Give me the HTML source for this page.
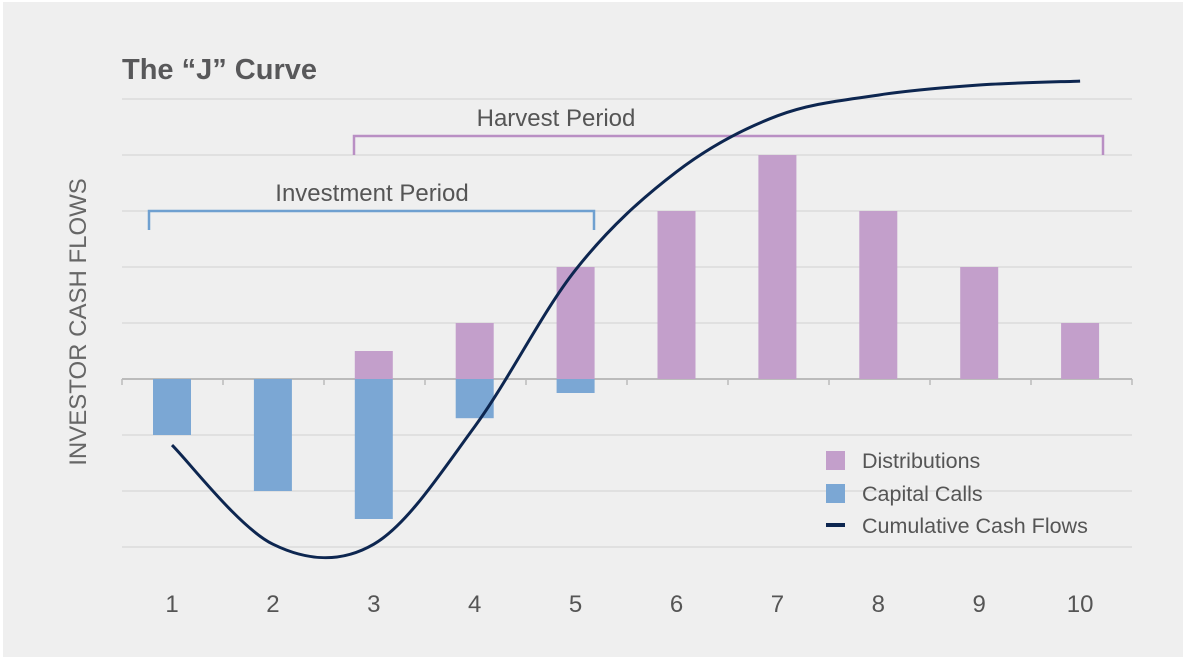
<!DOCTYPE html>
<html><head><meta charset="utf-8"><style>
html,body{margin:0;padding:0;background:#fff;width:1200px;height:672px;overflow:hidden}
svg{display:block;font-family:"Liberation Sans",sans-serif}
</style></head><body>
<svg id="c" width="1200" height="672">
<rect x="3" y="2" width="1180" height="655" fill="#efefef"/>
<text x="122" y="79" font-size="29" font-weight="bold" fill="#58585a">The “J” Curve</text>
<text transform="translate(86,322) rotate(-90)" text-anchor="middle" font-size="24" fill="#666">INVESTOR CASH FLOWS</text>
<g id="grid"></g><g id="bars"></g><g id="xl"></g>
<g>
<path d="M354,155 V136 H1103 V155" fill="none" stroke="#b98fc4" stroke-width="2.5"/>
<text x="556" y="126" text-anchor="middle" font-size="24" fill="#555">Harvest Period</text></g>
<g>
<path d="M149,230 V211 H594 V230" fill="none" stroke="#6fa0d0" stroke-width="2.5"/>
<text x="372" y="201" text-anchor="middle" font-size="24" fill="#555">Investment Period</text></g>
<path id="curve" fill="none" stroke="#0d2650" stroke-width="3"/>
<g font-size="21.5" fill="#555">
<rect x="826" y="451" width="19" height="19" fill="#c39fcb"/>
<text x="862" y="468">Distributions</text>
<rect x="826" y="484" width="19" height="19" fill="#7ba7d4"/>
<text x="862" y="501">Capital Calls</text>
<rect x="826" y="523" width="19" height="4" fill="#0d2650"/>
<text x="862" y="533">Cumulative Cash Flows</text>
</g>
</svg>
<script>
const categories=["1","2","3","4","5","6","7","8","9","10"];
const distributions=[0,0,0.5,1,2,3,4,3,2,1];
const capitalCalls=[-1,-2,-2.5,-0.7,-0.25,0,0,0,0,0];
const cumulative=[-1.18,-2.95,-2.95,-0.85,1.95,3.7,4.7,5.07,5.25,5.32];
const gridValues=[5,4,3,2,1,0,-1,-2,-3];
const NS="http://www.w3.org/2000/svg";
const xC=i=>172+i*100.9, yV=v=>379-v*56;
function mk(t,a,p){const e=document.createElementNS(NS,t);for(const k in a)e.setAttribute(k,a[k]);p.appendChild(e);return e;}
const g=document.getElementById('grid');
gridValues.forEach(v=>{const l=mk('line',{x1:122,x2:1132,y1:yV(v),y2:yV(v),stroke:v===0?'#bbb':'#d6d6d6','stroke-width':v===0?2:1.3},g);

});
for(let i=0;i<=10;i++){const t=mk('line',{x1:122+i*101,x2:122+i*101,y1:379,y2:385,stroke:'#bbb','stroke-width':1.5},g);

}
const b=document.getElementById('bars'),xl=document.getElementById('xl');
categories.forEach((c,i)=>{
 if(distributions[i]>0){const r=mk('rect',{x:xC(i)-19,y:yV(distributions[i]),width:38,height:yV(0)-yV(distributions[i]),fill:'#c39fcb'},b);
 
 }
 if(capitalCalls[i]<0){const r=mk('rect',{x:xC(i)-19,y:yV(0),width:38,height:yV(capitalCalls[i])-yV(0),fill:'#7ba7d4'},b);
 
 }
 const t=mk('text',{x:xC(i),y:612,'text-anchor':'middle','font-size':24,fill:'#555'},xl);t.textContent=c;
 
 
});
const pts=cumulative.map((v,i)=>[xC(i),yV(v)]);
let d='M'+pts[0][0]+','+pts[0][1];
for(let i=0;i<pts.length-1;i++){const p0=pts[Math.max(0,i-1)],p1=pts[i],p2=pts[i+1],p3=pts[Math.min(pts.length-1,i+2)];
d+=` C${p1[0]+(p2[0]-p0[0])/6},${p1[1]+(p2[1]-p0[1])/6} ${p2[0]-(p3[0]-p1[0])/6},${p2[1]-(p3[1]-p1[1])/6} ${p2[0]},${p2[1]}`;}
document.getElementById('curve').setAttribute('d',d);
</script>
</body></html>
